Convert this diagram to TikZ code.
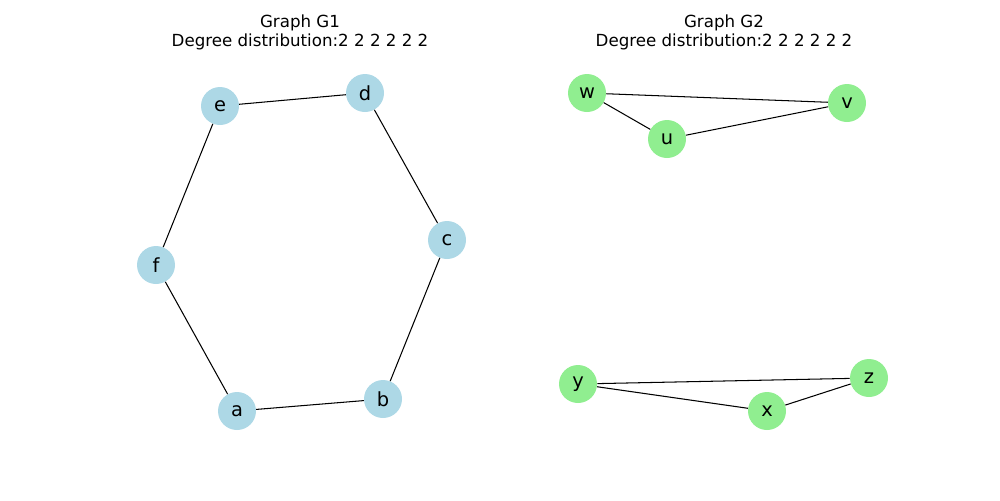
\documentclass[tikz,border=0pt]{standalone}
\usepackage{fontspec}
\setmainfont{DejaVu Sans}
\definecolor{lightblue}{RGB}{173,216,230}
\definecolor{lightgreen}{RGB}{144,238,144}
\begin{document}
\begin{tikzpicture}[x=0.72pt,y=-0.72pt,
  vtx/.style={circle,minimum size=38*0.72pt,inner sep=0pt,font=\fontsize{14}{16}\selectfont},
  bvtx/.style={vtx,fill=lightblue},
  gvtx/.style={vtx,fill=lightgreen},
  edge/.style={draw=black,line width=0.75pt},
  ttl/.style={font=\fontsize{12}{14}\selectfont,align=center,anchor=south}]
\useasboundingbox (0,0) rectangle (1000,500);
% titles
\node[ttl] (t1) at (300,55) {Graph G1\\Degree distribution:2 2 2 2 2 2};
\node[ttl] (t2) at (724,55) {Graph G2\\Degree distribution:2 2 2 2 2 2};
% graph G1: a 6-cycle
\node[bvtx] (e) at (220,106) {e};
\node[bvtx] (d) at (365,93) {d};
\node[bvtx] (c) at (447,240) {c};
\node[bvtx] (f) at (156,265) {f};
\node[bvtx] (a) at (237,411) {a};
\node[bvtx] (b) at (383,399) {b};
% graph G2: two triangles
\node[gvtx] (w) at (587,93) {w};
\node[gvtx] (v) at (847,103) {v};
\node[gvtx] (u) at (667,139) {u};
\node[gvtx] (y) at (578,384) {y};
\node[gvtx] (z) at (869,378) {z};
\node[gvtx] (x) at (767,411) {x};
% edges
\path[edge] (a) -- (b);
\path[edge] (b) -- (c);
\path[edge] (c) -- (d);
\path[edge] (d) -- (e);
\path[edge] (e) -- (f);
\path[edge] (f) -- (a);
\path[edge] (w) -- (v);
\path[edge] (w) -- (u);
\path[edge] (u) -- (v);
\path[edge] (y) -- (z);
\path[edge] (y) -- (x);
\path[edge] (x) -- (z);
\end{tikzpicture}
\end{document}
